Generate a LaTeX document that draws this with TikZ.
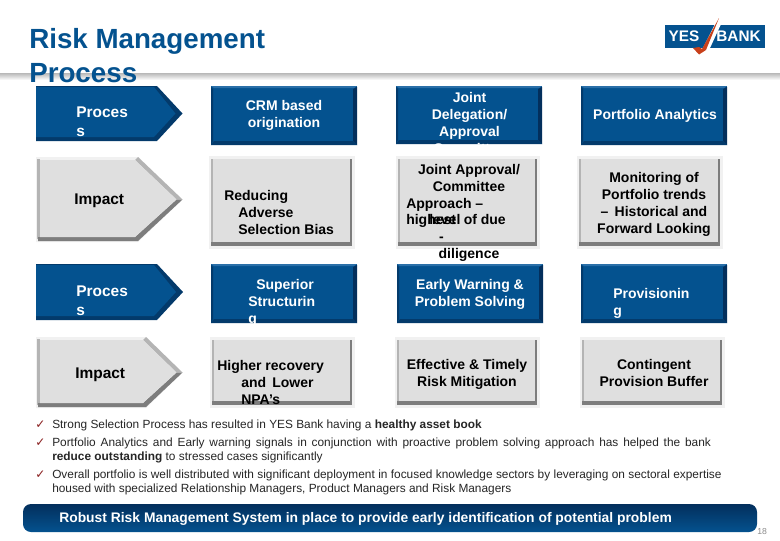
\documentclass[tikz,border=0pt]{standalone}
\usepackage{fontspec}
\setmainfont{Liberation Sans}
\newfontfamily\djv{DejaVu Sans}
\definecolor{ybblue}{HTML}{04528F}
\definecolor{ybdark}{HTML}{033A6B}
\definecolor{ybdeep}{HTML}{032F5C}
\definecolor{yblight}{HTML}{2A6FA8}
\definecolor{ybface}{HTML}{DFDFDF}
\definecolor{ybhalo}{HTML}{F1F1F1}
\definecolor{ybshade}{HTML}{7D7D7D}
\definecolor{ybmid}{HTML}{B4B4B4}
\definecolor{ybred}{HTML}{C8401A}
\definecolor{ybcheck}{HTML}{8A2020}
\newcommand{\fsz}[2]{\fontsize{#1}{#2}\selectfont}
\tikzset{
  x=0.75pt,y=-0.75pt,
  whitelabel/.style={inner sep=0,text=white,font=\bfseries\fsz{10.5pt}{12.75pt},align=center},
  blacklabel/.style={inner sep=0,text=black,font=\bfseries\fsz{10.5pt}{12.75pt},align=center},
  sidelabel/.style={inner sep=0,font=\bfseries\fsz{11.6pt}{14pt},anchor=west},
  noteline/.style={inner sep=0,anchor=base west,text=black!85,font=\fsz{8.9pt}{10pt}},
  tickmark/.style={inner sep=0,text=ybcheck,font=\djv\fsz{9pt}{10pt},anchor=base west},
}
% blue bevelled box: x0 y0 x1 y1
\newcommand{\bluebox}[4]{
  \fill[ybblue] (#1,#2) rectangle (#3,#4);
  \fill[yblight] (#1,#2) -- (#3,#2) -- ({#3-3},{#2+2}) -- ({#1+3},{#2+2}) -- cycle;
  \fill[ybdark] (#1,{#2+1}) -- ({#1+2},{#2+3}) -- ({#1+2},{#4-4}) -- (#1,#4) -- cycle;
  \fill[ybdeep] (#3,{#2+1}) -- ({#3-4},{#2+3}) -- ({#3-4},{#4-4}) -- (#3,#4) -- cycle;
  \fill[ybdark] (#1,#4) -- ({#1+3},{#4-4}) -- ({#3-4},{#4-4}) -- (#3,#4) -- cycle;
}
% grey bevelled box: x0 y0 x1 y1
\newcommand{\greybox}[4]{
  \fill[ybhalo] (#1,#2) rectangle (#3,#4);
  \fill[ybface] ({#1+3},{#2+3}) rectangle ({#3-3},{#4-3});
  \fill[ybmid] ({#1+2},{#2+3}) rectangle ({#1+4},{#4-3});
  \fill[ybshade] ({#3-5},{#2+3}) rectangle ({#3-3},{#4-3});
  \fill[ybshade] ({#1+2},{#4-7}) rectangle ({#3-3},{#4-3});
}
% blue arrow: x0 y0 x-shoulder x-tip y1
\newcommand{\bluearrow}[5]{
  \fill[ybdark] (#1,#2) -- (#3,#2) -- (#4,{(#2+#5)/2}) -- (#3,#5) -- (#1,#5) -- cycle;
  \fill[ybblue] (#1,{#2+1}) -- ({#3-3},{#2+1}) -- ({#4-7},{(#2+#5)/2}) -- ({#3-3},{#5-4}) -- (#1,{#5-4}) -- cycle;
}
% grey arrow: x0 y0 x-shoulder x-tip y1
\newcommand{\greyarrow}[5]{
  \fill[ybhalo] (#1,#2) -- (#3,#2) -- (#4,{(#2+#5)/2}) -- (#3,#5) -- (#1,#5) -- cycle;
  \fill[ybmid] ({#1+1},{#2+2}) rectangle ({#1+4},{#5-3});
  \fill[ybmid] (#3,#2) -- (#4,{(#2+#5)/2}) -- ({#4-6},{(#2+#5)/2}) -- ({#3-3},{#2+3}) -- cycle;
  \fill[ybshade] ({#1+2},{#5-5}) -- ({#3-3},{#5-5}) -- ({#4-6},{(#2+#5)/2}) -- (#4,{(#2+#5)/2}) -- (#3,{#5-1}) -- ({#1+2},{#5-1}) -- cycle;
  \fill[ybface] ({#1+4},{#2+3}) -- ({#3-3},{#2+3}) -- ({#4-6},{(#2+#5)/2}) -- ({#3-3},{#5-5}) -- ({#1+4},{#5-5}) -- cycle;
}
\begin{document}
\begin{tikzpicture}
\useasboundingbox (0,0) rectangle (780,540);
\fill[white] (0,0) rectangle (780,540);
% header rule
\shade[top color=black!28,bottom color=white] (0,73) rectangle (780,80);
% title
\node[inner sep=0,anchor=west,text=ybblue,font=\bfseries\fsz{20.8pt}{25.5pt},align=left] (title) at (29,56) {Risk Management\\Process};
% logo
\fill[ybblue] (665,25) rectangle (765,48);
\node[inner sep=0,text=white,font=\bfseries\fsz{11.5pt}{12pt}] (yes) at (684,36.5) {YES};
\node[inner sep=0,text=white,font=\bfseries\fsz{11.5pt}{12pt}] (bank) at (738.5,36.5) {BANK};
\fill[white] (722,22) -- (710,48) -- (703,48) -- (716,22) -- cycle;
\fill[ybred] (719,18) -- (706,50) -- (699,54.5) -- (693,48) -- (699,47) -- (702,49) -- cycle;

% row 1
\bluearrow{36}{86}{157}{182.5}{141}
\node[sidelabel,text=white,align=left] (p1) at (76,122) {Proces\\s};
\bluebox{211}{86}{357}{145}
\node[whitelabel] (crm) at (284,115.5) {CRM based\\origination};
\bluebox{396}{86}{542}{144}
\begin{scope}
  \clip (396,86) rectangle (542,144);
  \node[whitelabel] (joint) at (469.5,122.5) {Joint\\Delegation/\\Approval\\Committee};
\end{scope}
\bluebox{581}{86}{727}{145}
\node[whitelabel] (pa) at (655,116) {Portfolio Analytics};

% row 2
\greyarrow{36}{157}{138}{182.5}{242}
\node[sidelabel] (i1) at (74,200.5) {Impact};
\greybox{209}{156}{355}{249}
\node[blacklabel,align=left,anchor=west] (rab) at (224,212) {Reducing\\\hspace*{10.5pt}Adverse\\\hspace*{10.5pt}Selection Bias};
\greybox{396}{156}{540}{249}
\node[blacklabel] (ja) at (469,177.5) {Joint Approval/\\Committee};
\node[blacklabel,anchor=base west] (appr) at (406,208) {Approach –};
\node[blacklabel,anchor=base west] (high) at (406,224.5) {highest};
\node[blacklabel,anchor=base west] (lev) at (429,224.5) {level};
\node[blacklabel,anchor=base west] (ofd) at (463.5,224.5) {of due};
\node[blacklabel,anchor=base] (dash) at (441.5,241) {-};
\node[blacklabel,anchor=base] (dil) at (469,258) {diligence};
\greybox{577}{156}{723}{249}
\node[blacklabel] (mon) at (654,204) {Monitoring of\\Portfolio trends\\–\, Historical and\\Forward Looking};

% row 3
\bluearrow{36}{264}{157}{183}{320}
\node[sidelabel,text=white,align=left] (p2) at (76,301) {Proces\\s};
\bluebox{211}{264}{357}{323}
\begin{scope}
  \clip (211,264) rectangle (357,323);
  \node[whitelabel,align=left,anchor=west] (sup) at (248,302.5) {\hspace*{6pt}Superior\\Structurin\\g};
\end{scope}
\bluebox{397}{264}{543}{323}
\node[whitelabel] (ew) at (470,294) {Early Warning \&\\Problem Solving};
\bluebox{581}{264}{727}{323}
\node[whitelabel,align=left,anchor=west] (prov) at (613,303) {Provisionin\\g};

% row 4
\greyarrow{36}{337}{146}{182.5}{408}
\node[sidelabel] (i2) at (75,374.5) {Impact};
\greybox{210}{337}{355}{408}
\begin{scope}
  \clip (210,337) rectangle (355,405);
  \node[blacklabel,align=left,anchor=west] (hr) at (217,382) {Higher recovery\\\hspace*{18pt}and\, Lower\\\hspace*{18pt}NPA’s};
\end{scope}
\greybox{395}{337}{540}{408}
\node[blacklabel] (eff) at (467,374) {Effective \& Timely\\Risk Mitigation};
\greybox{580}{337}{725}{408}
\node[blacklabel] (con) at (654,373) {Contingent\\Provision Buffer};

% notes
\node[tickmark] (t1) at (35,428) {✓};
\node[noteline] (n1) at (52,428) {Strong Selection Process has resulted in YES Bank having a \textbf{healthy asset book}};
\node[tickmark] (t2) at (35,446) {✓};
\node[noteline] (n2) at (52,446) {\makebox[494pt][s]{Portfolio Analytics and Early warning signals in conjunction with proactive problem solving approach has helped the bank}};
\node[noteline] (n3) at (52,460) {\textbf{reduce outstanding} to stressed cases significantly};
\node[tickmark] (t3) at (35,478) {✓};
\node[noteline] (n4) at (52,478) {\makebox[502pt][s]{Overall portfolio is well distributed with significant deployment in focused knowledge sectors by leveraging on sectoral expertise}};
\node[noteline] (n5) at (52,492) {housed with specialized Relationship Managers, Product Managers and Risk Managers};

% bottom bar
\shade[top color=ybdeep,bottom color=ybblue,rounded corners=6pt] (23,504) rectangle (757,532);
\node[inner sep=0,anchor=base west,text=white,font=\bfseries\fsz{10.4pt}{12pt}] (bar) at (59,522) {Robust Risk Management System in place to provide early identification of potential problem};
\node[inner sep=0,anchor=base west,text=black!45,font=\fsz{6.5pt}{8pt}] (pg) at (757,534) {18};
\end{tikzpicture}
\end{document}
